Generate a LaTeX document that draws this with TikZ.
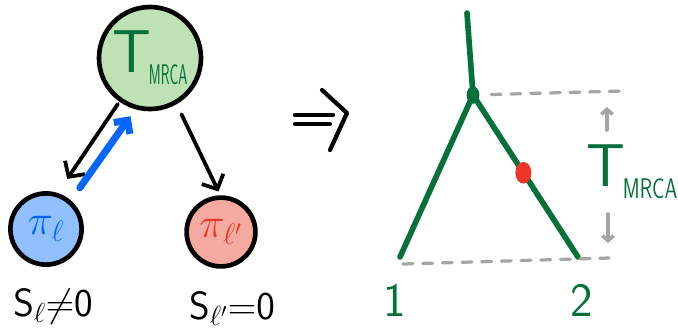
\documentclass[tikz,border=0pt]{standalone}
\usepackage{fix-cm}
\usepackage{amsmath,amssymb}
\usepackage{graphicx}
\usepackage{tikz}
\usetikzlibrary{arrows.meta, positioning, calc, shapes.geometric}
\usepackage{xcolor}
\definecolor{mrcagreen}{RGB}{190,226,180}
\definecolor{treegreen}{RGB}{5,112,55}
\definecolor{lblue}{RGB}{145,192,255}
\definecolor{deepblue}{RGB}{0,102,255}
\definecolor{lred}{RGB}{245,170,160}
\definecolor{deepred}{RGB}{235,55,35}
\definecolor{guide}{RGB}{165,165,165}
\newcommand{\tmrca}[1]{T\kern-0.04em\raisebox{-0.2em}{\scalebox{#1}[0.47]{MRCA}}}

\begin{document}
\begin{tikzpicture}[x=0.025cm, y=-0.025cm, line cap=round, line join=round,
  bubble/.style={draw, circle, line width=3.3pt, inner sep=0pt},
  link/.style={line width=2.7pt, -{Straight Barb[length=8pt,width=17pt]}},
  guideline/.style={guide, line width=2.3pt, dash pattern=on 7pt off 7pt},
  hint/.style={guide, line width=2.6pt, -{Straight Barb[length=3.5pt,width=8pt]}},
  branch/.style={treegreen, line width=4pt},
  big/.style={font=\sffamily\fontsize{43}{43}\selectfont}]
  \useasboundingbox (0,0) rectangle (678,332);
  % left: the three states
  \node[bubble, big, fill=mrcagreen, minimum size=2.55cm, text=treegreen] (mrca) at (150,58) {\tmrca{0.24}};
  \node[bubble, fill=lblue, minimum size=1.78cm, text=deepblue, font=\fontsize{30}{30}\selectfont] (pil) at (46,229) {$\pi_\ell$};
  \node[bubble, fill=lred, minimum size=1.72cm, text=deepred, font=\fontsize{30}{30}\selectfont] (pilp) at (221,232) {$\pi_{\ell'}$};
  \draw[link, shorten <=2pt, shorten >=12pt] (mrca.235) -- (pil.72);
  \draw[link, shorten <=8pt, shorten >=3pt] (mrca.300) -- (pilp.91);
  \draw[deepblue, line width=5pt, -{Straight Barb[length=7pt,width=14pt]}, shorten <=11pt, shorten >=6pt] (pil.49) -- (mrca.254);
  \node[font=\fontsize{28}{28}\selectfont] (sl) at (53,307) {$\mathsf{S}_\ell{\neq}\mathsf{0}$};
  \node[font=\fontsize{28}{28}\selectfont] (slp) at (232,309) {$\mathsf{S}_{\ell'}{=}\mathsf{0}$};
  % implies
  \draw[line width=3pt] (295,115) -- (333,115);
  \draw[line width=3pt] (295,124) -- (330,124);
  \draw[line width=3pt] (322,90) -- (347,113) -- (330,150);
  % right: the genealogy
  \coordinate (top) at (467,13);
  \node[ellipse, fill=treegreen, minimum width=0.32cm, minimum height=0.44cm, inner sep=0pt] (root) at (473,95) {};
  \coordinate (leafa) at (400,257);
  \coordinate (leafb) at (578,257);
  \draw[branch] (top) -- (root.center);
  \draw[branch] (root.center) -- (leafa);
  \draw[branch] (root.center) -- node[ellipse, fill=deepred, minimum width=0.4cm, minimum height=0.54cm, inner sep=0pt, pos=0.48] (mut) {} (leafb);
  \coordinate (topguide) at (623,91);
  \coordinate (baseL) at (403,264);
  \coordinate (baseR) at (609,258);
  \draw[guideline, shorten <=13pt] (root.center) -- (topguide);
  \draw[guideline] (baseL) -- (baseR);
  \node[big, text=treegreen] (tlab) at (632,172) {\tmrca{0.34}};
  \coordinate (upfrom) at (607,130);
  \coordinate (upto) at (607,107);
  \coordinate (dnfrom) at (608,214);
  \coordinate (dnto) at (608,243);
  \draw[hint] (upfrom) -- (upto);
  \draw[hint] (dnfrom) -- (dnto);
  \node[text=treegreen, font=\sffamily\fontsize{34}{34}\selectfont] (one) at (395,300) {1};
  \node[text=treegreen, font=\sffamily\fontsize{34}{34}\selectfont] (two) at (582,300) {2};
\end{tikzpicture}
\end{document}
